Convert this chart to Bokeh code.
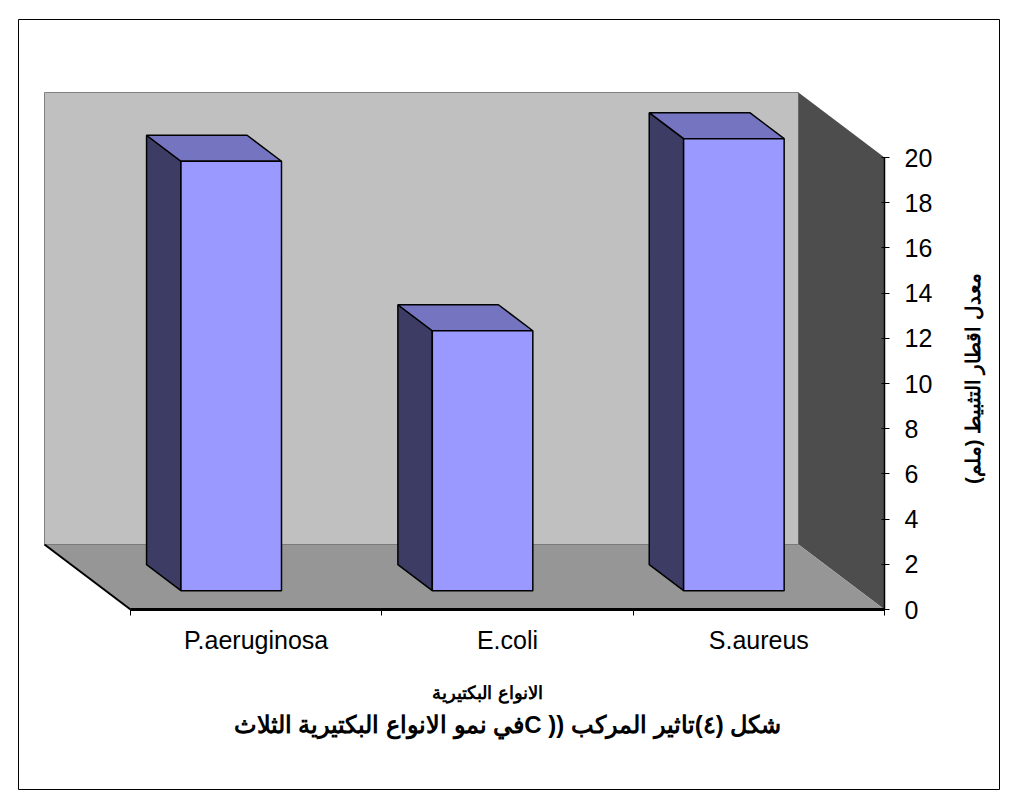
import math

from bokeh.embed import file_html
from bokeh.models import FixedTicker, Label, LinearAxis, Range1d
from bokeh.plotting import figure
from bokeh.resources import INLINE

# ---- data -------------------------------------------------------------
categories = ["P.aeruginosa", "E.coli", "S.aureus"]
inhibition_mm = [19.0, 11.5, 20.0]
y_ticks = [0, 2, 4, 6, 8, 10, 12, 14, 16, 18, 20]
y_max = 20

title_text = "شكل (٤)تاثير المركب (( Cفي نمو الانواع البكتيرية الثلاث"
x_title = "الانواع البكتيرية"
y_title = "معدل اقطار التثبيط (ملم)"

# ---- geometry (pixels) -------------------------------------------------
W, H = 1016, 807
BOX = (18, 19, 999, 789)                       # chart area: left, top, right, bottom
FLOOR_X0, FLOOR_X1, FLOOR_Y = 130, 884, 609    # front edge of the floor
PX_PER_VAL = 22.6                              # vertical pixels per mm
DEPTH_PX = (86, 65)                            # oblique offset, front -> back
n = len(categories)
PX_PER_CAT = (FLOOR_X1 - FLOOR_X0) / n


def to_x(px):
    return (px - FLOOR_X0) / PX_PER_CAT


def to_y(py):
    return (FLOOR_Y - py) / PX_PER_VAL


# full depth vector in data units
DX = -DEPTH_PX[0] / PX_PER_CAT
DY = DEPTH_PX[1] / PX_PER_VAL
Y_TOP = y_max + DY

FONT = "Liberation Sans"
RLE, PDF = "\u202b", "\u202c"

p = figure(
    width=W, height=H,
    x_range=Range1d(to_x(BOX[0]), to_x(BOX[2])),
    y_range=Range1d(to_y(BOX[3]), to_y(BOX[1])),
    output_backend="svg", toolbar_location=None,
    min_border_left=BOX[0], min_border_right=W - BOX[2],
    min_border_top=BOX[1], min_border_bottom=H - BOX[3],
    x_axis_location=None, y_axis_location=None,
)
p.grid.visible = False
p.outline_line_color = "black"
p.outline_line_width = 1
p.background_fill_color = "white"
p.border_fill_color = "white"

# ---- walls and floor ---------------------------------------------------
# back wall
p.patch([DX, n + DX, n + DX, DX], [DY, DY, Y_TOP, Y_TOP],
        fill_color="#c0c0c0", line_color="#808080", line_width=1)
# side wall (right)
p.patch([n, n, n + DX, n + DX], [0, y_max, Y_TOP, DY],
        fill_color="#4d4d4d", line_color=None)
# floor
p.patch([0, n, n + DX, DX], [0, 0, DY, DY],
        fill_color="#969696", line_color=None)
p.line([DX, n + DX], [DY, DY], line_color="#7a7a7a", line_width=1)
p.line([0, DX], [0, DY], line_color="black", line_width=2)

# ---- 3-D columns -------------------------------------------------------
FRONT_DEPTH = 0.29   # fraction of floor depth where the column face sits
COL_DEPTH = 0.40     # column thickness as fraction of floor depth
COL_WIDTH = 0.40     # column width in category units

front_x, front_y, top_x, top_y, side_x, side_y = [], [], [], [], [], []
for i, v in enumerate(inhibition_mm):
    c = i + 0.5 + FRONT_DEPTH * DX
    b = FRONT_DEPTH * DY
    l, r = c - COL_WIDTH / 2, c + COL_WIDTH / 2
    ox, oy = COL_DEPTH * DX, COL_DEPTH * DY
    front_x.append([l, r, r, l])
    front_y.append([b, b, b + v, b + v])
    top_x.append([l, r, r + ox, l + ox])
    top_y.append([b + v, b + v, b + v + oy, b + v + oy])
    side_x.append([l, l, l + ox, l + ox])
    side_y.append([b, b + v, b + v + oy, b + oy])

p.patches(side_x, side_y, fill_color="#3c3c64", line_color="black", line_width=1.5)
p.patches(top_x, top_y, fill_color="#7474c0", line_color="black", line_width=1.5)
p.patches(front_x, front_y, fill_color="#9999ff", line_color="black", line_width=1.5)

# ---- axes (pinned to the front edges of the floor) ---------------------
yaxis = LinearAxis(
    fixed_location=n,
    ticker=FixedTicker(ticks=y_ticks), bounds=(0, y_max),
    axis_line_color="black", axis_line_width=1.5,
    major_tick_in=3, major_tick_out=5, minor_tick_out=0, minor_tick_in=0,
    major_tick_line_color="black",
    major_label_standoff=15,
    major_label_text_font=FONT, major_label_text_font_size="25px",
    major_label_text_color="black",
)
p.add_layout(yaxis, "right")

xaxis = LinearAxis(
    fixed_location=0,
    ticker=FixedTicker(ticks=[i + 0.5 for i in range(n)],
                       minor_ticks=list(range(n + 1))),
    major_label_overrides={i + 0.5: name for i, name in enumerate(categories)},
    bounds=(0, n),
    axis_line_color="black", axis_line_width=3,
    major_tick_in=0, major_tick_out=0,
    minor_tick_in=0, minor_tick_out=6, minor_tick_line_color="black",
    major_label_standoff=10,
    major_label_text_font=FONT, major_label_text_font_size="25px",
    major_label_text_color="black",
)
p.add_layout(xaxis, "below")

# ---- titles ------------------------------------------------------------
p.add_layout(Label(
    x=to_x(972), y=to_y(378), text=RLE + y_title + PDF, angle=math.pi / 2,
    text_align="center", text_baseline="middle",
    text_font=FONT, text_font_size="20px", text_font_style="bold",
    text_color="black"))
p.add_layout(Label(
    x=to_x(487), y=to_y(692), text=RLE + x_title + PDF,
    text_align="center", text_baseline="middle",
    text_font=FONT, text_font_size="18px", text_font_style="bold",
    text_color="black"))
p.add_layout(Label(
    x=to_x(507), y=to_y(724), text=RLE + title_text + PDF,
    text_align="center", text_baseline="middle",
    text_font=FONT, text_font_size="24px", text_font_style="bold",
    text_color="black"))

open("out.html", "w").write(file_html(p, INLINE))
